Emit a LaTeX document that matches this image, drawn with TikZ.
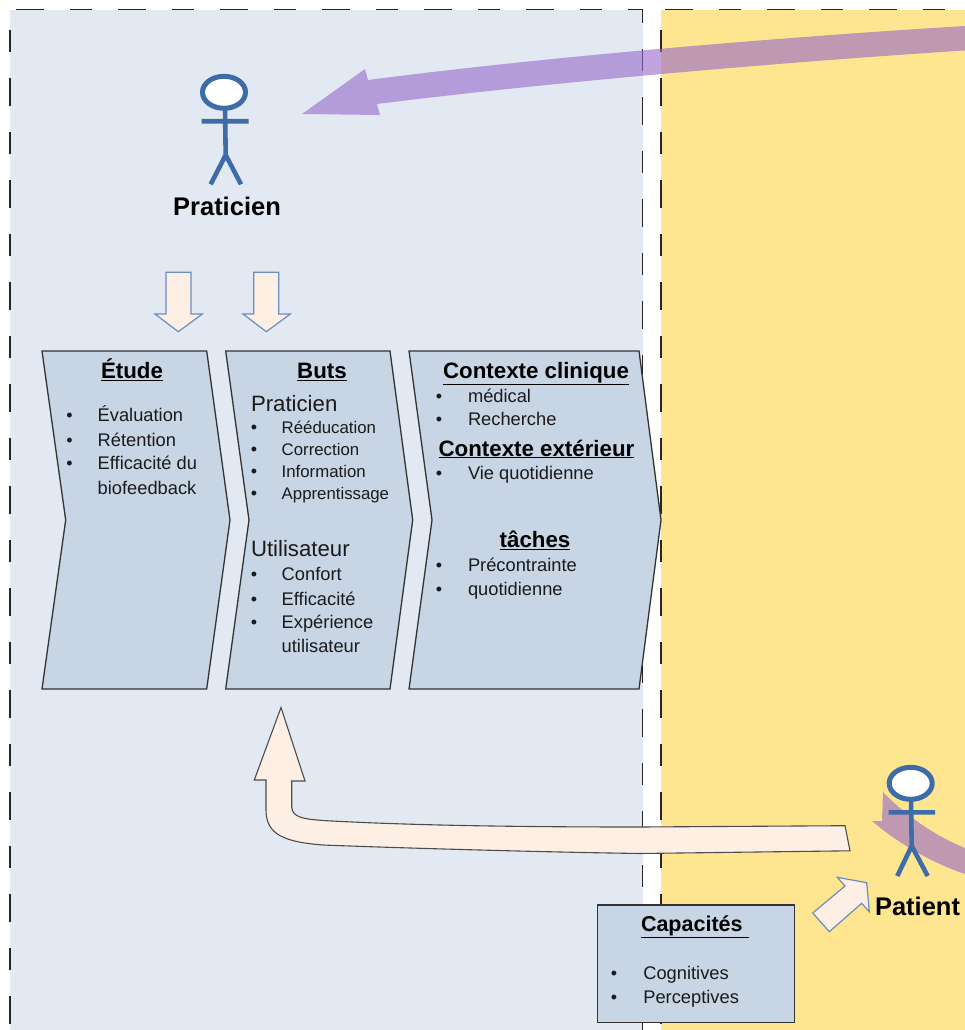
\documentclass[tikz,border=0pt]{standalone}
\usepackage{fontspec}
\setmainfont{Liberation Sans}
\definecolor{leftbg}{HTML}{E3E9F2}
\definecolor{rightbg}{HTML}{FEE690}
\definecolor{boxfill}{HTML}{C8D5E5}
\definecolor{cream}{HTML}{FDEFE4}
\definecolor{figblue}{HTML}{3D6CA8}
\definecolor{purplearrow}{HTML}{9667CA}
\definecolor{edgeblue}{HTML}{6C8EBF}
\definecolor{txt}{HTML}{1A1A1A}
\newcount\tcnt
\tikzset{
  x=1pt,y=-1pt,
  panedge/.style={draw=black!85,line width=1.3pt,dash pattern=on 28pt off 26pt on 22pt off 26pt},
  panedgeb/.style={draw=black!85,line width=1.3pt,dash pattern=on 22pt off 26pt on 28pt off 26pt},
  chev/.style={draw=black!80,fill=boxfill,line width=1.3pt,line join=miter},
  creamblack/.style={draw=black!70,fill=cream,line width=1.1pt},
  creamblue/.style={draw=edgeblue,fill=cream,line width=1.2pt},
  purpleblock/.style={fill=purplearrow,fill opacity=.6},
  person/.style={draw=figblue,line width=4.6pt},
  personhead/.style={draw=figblue,fill=white,line width=5pt},
  txtnode/.style={inner sep=0pt,outer sep=0pt,text=txt},
}
\newcommand{\itemat}[4]{% bullet x, text x, baseline y, text
  \global\advance\tcnt by 1
  \node[txtnode,anchor=base] (bul\the\tcnt) at (#1,#3) {\fontsize{18}{18}\selectfont •};
  \node[txtnode,anchor=base west] (item\the\tcnt) at (#2,#3) {\fontsize{18.3}{20}\selectfont #4};
}
\newcommand{\smallitem}[4]{%
  \global\advance\tcnt by 1
  \node[txtnode,anchor=base] (bul\the\tcnt) at (#1,#3) {\fontsize{18}{18}\selectfont •};
  \node[txtnode,anchor=base west] (item\the\tcnt) at (#2,#3) {\fontsize{16.8}{20}\selectfont #4};
}
\newcommand{\plainline}[3]{%
  \global\advance\tcnt by 1
  \node[txtnode,anchor=base west] (item\the\tcnt) at (#1,#2) {\fontsize{18.3}{20}\selectfont #3};
}
\newcommand{\headline}[3]{%
  \global\advance\tcnt by 1
  \node[txtnode,anchor=base west] (item\the\tcnt) at (#1,#2) {\fontsize{22.2}{24}\selectfont #3};
}
\newcommand{\boxtitle}[3]{%
  \global\advance\tcnt by 1
  \node[txtnode,anchor=base,text=black] (item\the\tcnt) at (#1,#2) {\fontsize{22.3}{24}\selectfont\bfseries \underline{#3}};
}
\begin{document}
\begin{tikzpicture}
\useasboundingbox (0,0) rectangle (965,1030);
\fill[white] (0,0) rectangle (965,1030);
% panels
\fill[leftbg] (10,10) rectangle (643,1030);
\fill[rightbg] (661,10) rectangle (965,1030);
\draw[panedge] (16,9.5) -- (642.5,9.5) -- (642.5,1030);
\draw[panedgeb] (10,30) -- (10,1030);
\draw[panedge] (665,9.5) -- (965,9.5);
\draw[panedgeb] (661,30) -- (661,1030);
% purple arrows
\fill[purpleblock] (965,26) .. controls (800,36) and (560,55) .. (368,80) -- (365,69) -- (302,114) -- (380,115) -- (377,104) .. controls (560,81) and (800,61) .. (965,50.5) -- cycle;
\fill[purpleblock] (965,848) .. controls (935,836) and (905,815) .. (883,792) -- (882,821) -- (872,821) .. controls (900,845) and (935,864) .. (965,874) -- cycle;
% chevrons
\path[chev] (42,351) -- (206.7,351) -- (230,520) -- (206.7,689) -- (42,689) -- (65.7,520) -- cycle;
\path[chev] (225.7,351) -- (390,351) -- (412.7,520) -- (390,689) -- (225.7,689) -- (249,520) -- cycle;
\path[chev] (409,351) -- (639,351) -- (661,520) -- (639,689) -- (409,689) -- (432,520) -- cycle;
% Etude
\boxtitle{132}{378.7}{Étude}
\itemat{69.5}{97.7}{421.7}{Évaluation}
\itemat{69.5}{97.7}{446}{Rétention}
\itemat{69.5}{97.7}{469.5}{Efficacité du}
\plainline{97.7}{494}{biofeedback}
% Buts
\boxtitle{322}{378.7}{Buts}
\headline{251}{411}{Praticien}
\smallitem{254}{281.7}{433}{Rééducation}
\smallitem{254}{281.7}{455}{Correction}
\smallitem{254}{281.7}{477}{Information}
\smallitem{254}{281.7}{499}{Apprentissage}
\headline{251}{556}{Utilisateur}
\itemat{254}{281.7}{580.7}{Confort}
\itemat{254}{281.7}{605}{Efficacité}
\itemat{254}{281.7}{628}{Expérience}
\plainline{281.7}{652.7}{utilisateur}
% Contexte
\boxtitle{536}{378}{Contexte clinique}
\itemat{439}{468}{402}{médical}
\itemat{439}{468}{425.7}{Recherche}
\boxtitle{536.5}{456}{Contexte extérieur}
\itemat{439}{468}{479.3}{Vie quotidienne}
\boxtitle{535}{547.7}{tâches}
\itemat{439}{468}{571}{Précontrainte}
\itemat{439}{468}{595.7}{quotidienne}
% down arrows
\path[creamblue] (166,272.3) -- (191,272.3) -- (191,314) -- (202.3,314) -- (178.3,331.7) -- (155,314) -- (166,314) -- cycle;
\path[creamblue] (253.7,272.3) -- (278.7,272.3) -- (278.7,314) -- (290.3,314) -- (266.3,331.7) -- (243,314) -- (253.7,314) -- cycle;
% large cream arrow
\path[creamblack] (281,707.5) -- (305,781) -- (291.7,781) -- (291.7,806.7) .. controls (292,818) and (305,819) .. (323,820.5) .. controls (420,826) and (540,827) .. (640,827) -- (845,825.7) -- (850,850.8) -- (640,853.5) .. controls (540,852) and (400,848) .. (323,845) .. controls (285,842) and (266,835) .. (266,810) -- (266,780) -- (254.3,780) -- cycle;
% small cream arrow
\path[creamblue] (812.7,913) -- (829.3,931.7) -- (861.7,903.3) -- (869.3,911.7) -- (866.7,882.7) -- (837.3,877.3) -- (845,886) -- cycle;
% Capacites box
\path[chev] (597.3,905) rectangle (794.3,1022.3);
\node[txtnode,anchor=base west,text=black] (captitle) at (641,931.5) {\fontsize{21.5}{24}\selectfont\bfseries \underline{Capacités\ }};
\itemat{614}{643.3}{979}{Cognitives}
\itemat{614}{643.3}{1003.3}{Perceptives}
% figures
\path[personhead] (224,92.3) ellipse[x radius=21.5,y radius=16];
\coordinate (phip) at (225.7,155);
\coordinate (pneck) at (225,108);
\coordinate (parmL) at (201.5,121.3);
\coordinate (parmR) at (248.7,121.3);
\coordinate (plegL) at (210.7,184.3);
\coordinate (plegR) at (241,184.3);
\draw[person] (pneck) -- (phip) (parmL) -- (parmR) (plegL) -- (phip) -- (plegR);
\node[txtnode,anchor=base,text=black] (praticien) at (227,215) {\fontsize{25.5}{28}\selectfont\bfseries Praticien};
\path[personhead] (910.7,783.3) ellipse[x radius=21.5,y radius=16];
\coordinate (ahip) at (911.7,846);
\coordinate (aneck) at (911,799);
\coordinate (aarmL) at (888.7,812.3);
\coordinate (aarmR) at (935,812.3);
\coordinate (alegL) at (897.3,876);
\coordinate (alegR) at (927.7,876);
\draw[person] (aneck) -- (ahip) (aarmL) -- (aarmR) (alegL) -- (ahip) -- (alegR);
\node[txtnode,anchor=base west,text=black] (patient) at (875,915.7) {\fontsize{25.5}{28}\selectfont\bfseries Patient};
\end{tikzpicture}
\end{document}
